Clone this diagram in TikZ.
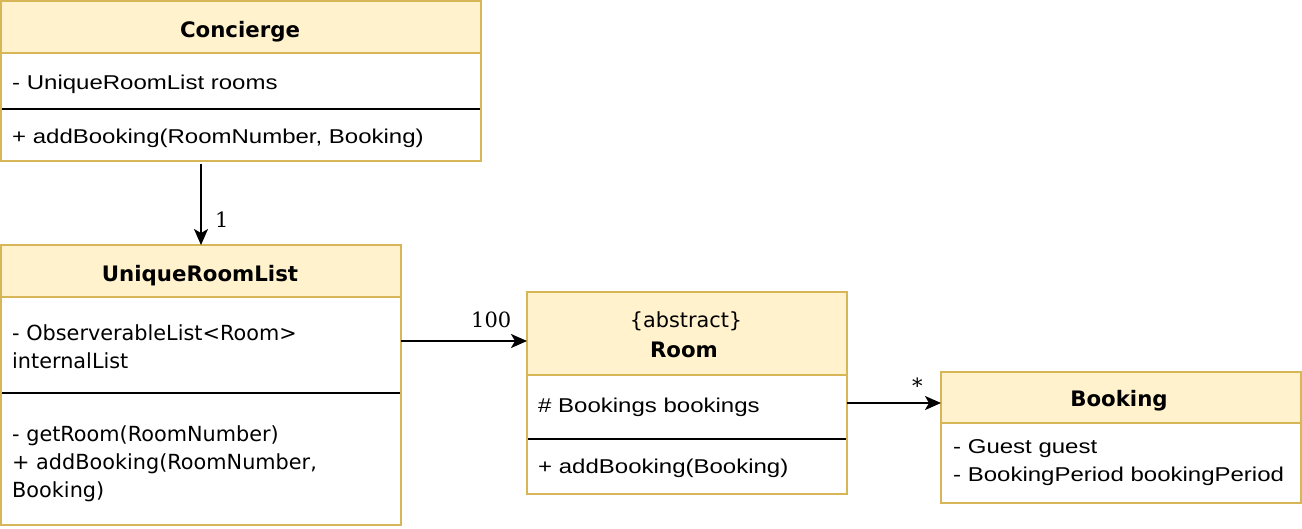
\documentclass[tikz,border=0pt]{standalone}
\usepackage{fontspec}
\setmainfont{Liberation Sans}[FakeStretch=1.2]
\newfontfamily\hdfont{DejaVu Sans}
\newfontfamily\tafont{DejaVu Sans}
\newfontfamily\lblfont{DejaVu Serif}
\usetikzlibrary{arrows.meta}
\definecolor{hdfill}{HTML}{FFF2CC}
\definecolor{hdline}{HTML}{D6B656}
\tikzset{
  x=1pt, y=-1pt,
  clsbox/.style={rectangle, inner sep=0pt, outer sep=0pt, anchor=north west, fill=white},
  hdbox/.style={fill=hdfill, draw=hdline, line width=2pt},
  divline/.style={draw=black, line width=2pt},
  frame/.style={draw=hdline, line width=2pt},
  title/.style={font=\hdfont\bfseries\fontsize{21.3}{24}\selectfont, inner sep=0pt, anchor=base},
  membertxt/.style={font=\fontsize{20}{24}\selectfont, inner sep=0pt, anchor=base west},
  tahomatxt/.style={font=\tafont\fontsize{20.8}{24}\selectfont, inner sep=0pt, anchor=base west},
  multlbl/.style={font=\lblfont\fontsize{21}{24}\selectfont, inner sep=0pt, anchor=base west},
  assoc/.style={draw=black, line width=2pt, -{Stealth[length=16pt,width=14pt,inset=4pt]}},
}
\begin{document}
\begin{tikzpicture}
\useasboundingbox (0,0) rectangle (1302,528);
% Concierge
\node[clsbox, minimum width=480pt, minimum height=159.5pt] (conc) at (1,1) {};
\draw[hdbox] (conc.north west) rectangle (481,53);
\draw[divline] (1,108.5) -- (481,108.5);
\draw[frame] (conc.north west) rectangle (conc.south east);
\node[title] (concT) at (240,37) {Concierge};
\node[membertxt] (concA) at (12,89) {- UniqueRoomList rooms};
\node[membertxt] (concM) at (12,143) {+ addBooking(RoomNumber, Booking)};
% UniqueRoomList
\node[clsbox, minimum width=400pt, minimum height=280pt] (url) at (1,245) {};
\draw[hdbox] (url.north west) rectangle (401,297);
\draw[divline] (1,392.5) -- (401,392.5);
\draw[frame] (url.north west) rectangle (url.south east);
\node[title] (urlT) at (200,281) {UniqueRoomList};
\node[tahomatxt] (urlA1) at (12,340.5) {- ObserverableList<Room>};
\node[tahomatxt] (urlA2) at (12,368.5) {internalList};
\node[tahomatxt] (urlM1) at (12,441.5) {- getRoom(RoomNumber)};
\node[tahomatxt] (urlM2) at (12,469.5) {+ addBooking(RoomNumber,};
\node[tahomatxt] (urlM3) at (12,497.5) {Booking)};
% Room
\node[clsbox, minimum width=320pt, minimum height=202pt] (room) at (527,291.5) {};
\draw[hdbox] (room.north west) rectangle (847,375);
\draw[divline] (527,439) -- (847,439);
\draw[frame] (room.north west) rectangle (room.south east);
\node[tahomatxt, anchor=base] (roomS) at (686,327) {\{abstract\}};
\node[title] (roomT) at (684,357) {Room};
\node[membertxt] (roomA) at (538,412) {\# Bookings bookings};
\node[membertxt] (roomM) at (538,473.5) {+ addBooking(Booking)};
% Booking
\node[clsbox, minimum width=360pt, minimum height=131pt] (bk) at (941,371.5) {};
\draw[hdbox] (bk.north west) rectangle (1301,422.5);
\draw[frame] (bk.north west) rectangle (bk.south east);
\node[title] (bkT) at (1119,406.5) {Booking};
\node[membertxt] (bkA1) at (953,453.5) {- Guest guest};
\node[membertxt] (bkA2) at (953,481) {- BookingPeriod bookingPeriod};
% connectors
\draw[assoc] ([yshift=-3pt]url.north |- conc.south) -- (url.north);
\node[multlbl] (l1) at (215,227) {1};
\draw[assoc] (url.east |- 0,341) -- (room.west |- 0,341);
\node[multlbl] (l100) at (471,327) {100};
\draw[assoc] (room.east |- 0,403) -- (bk.west |- 0,403);
\node[multlbl] (lstar) at (912,393) {*};
\end{tikzpicture}
\end{document}
